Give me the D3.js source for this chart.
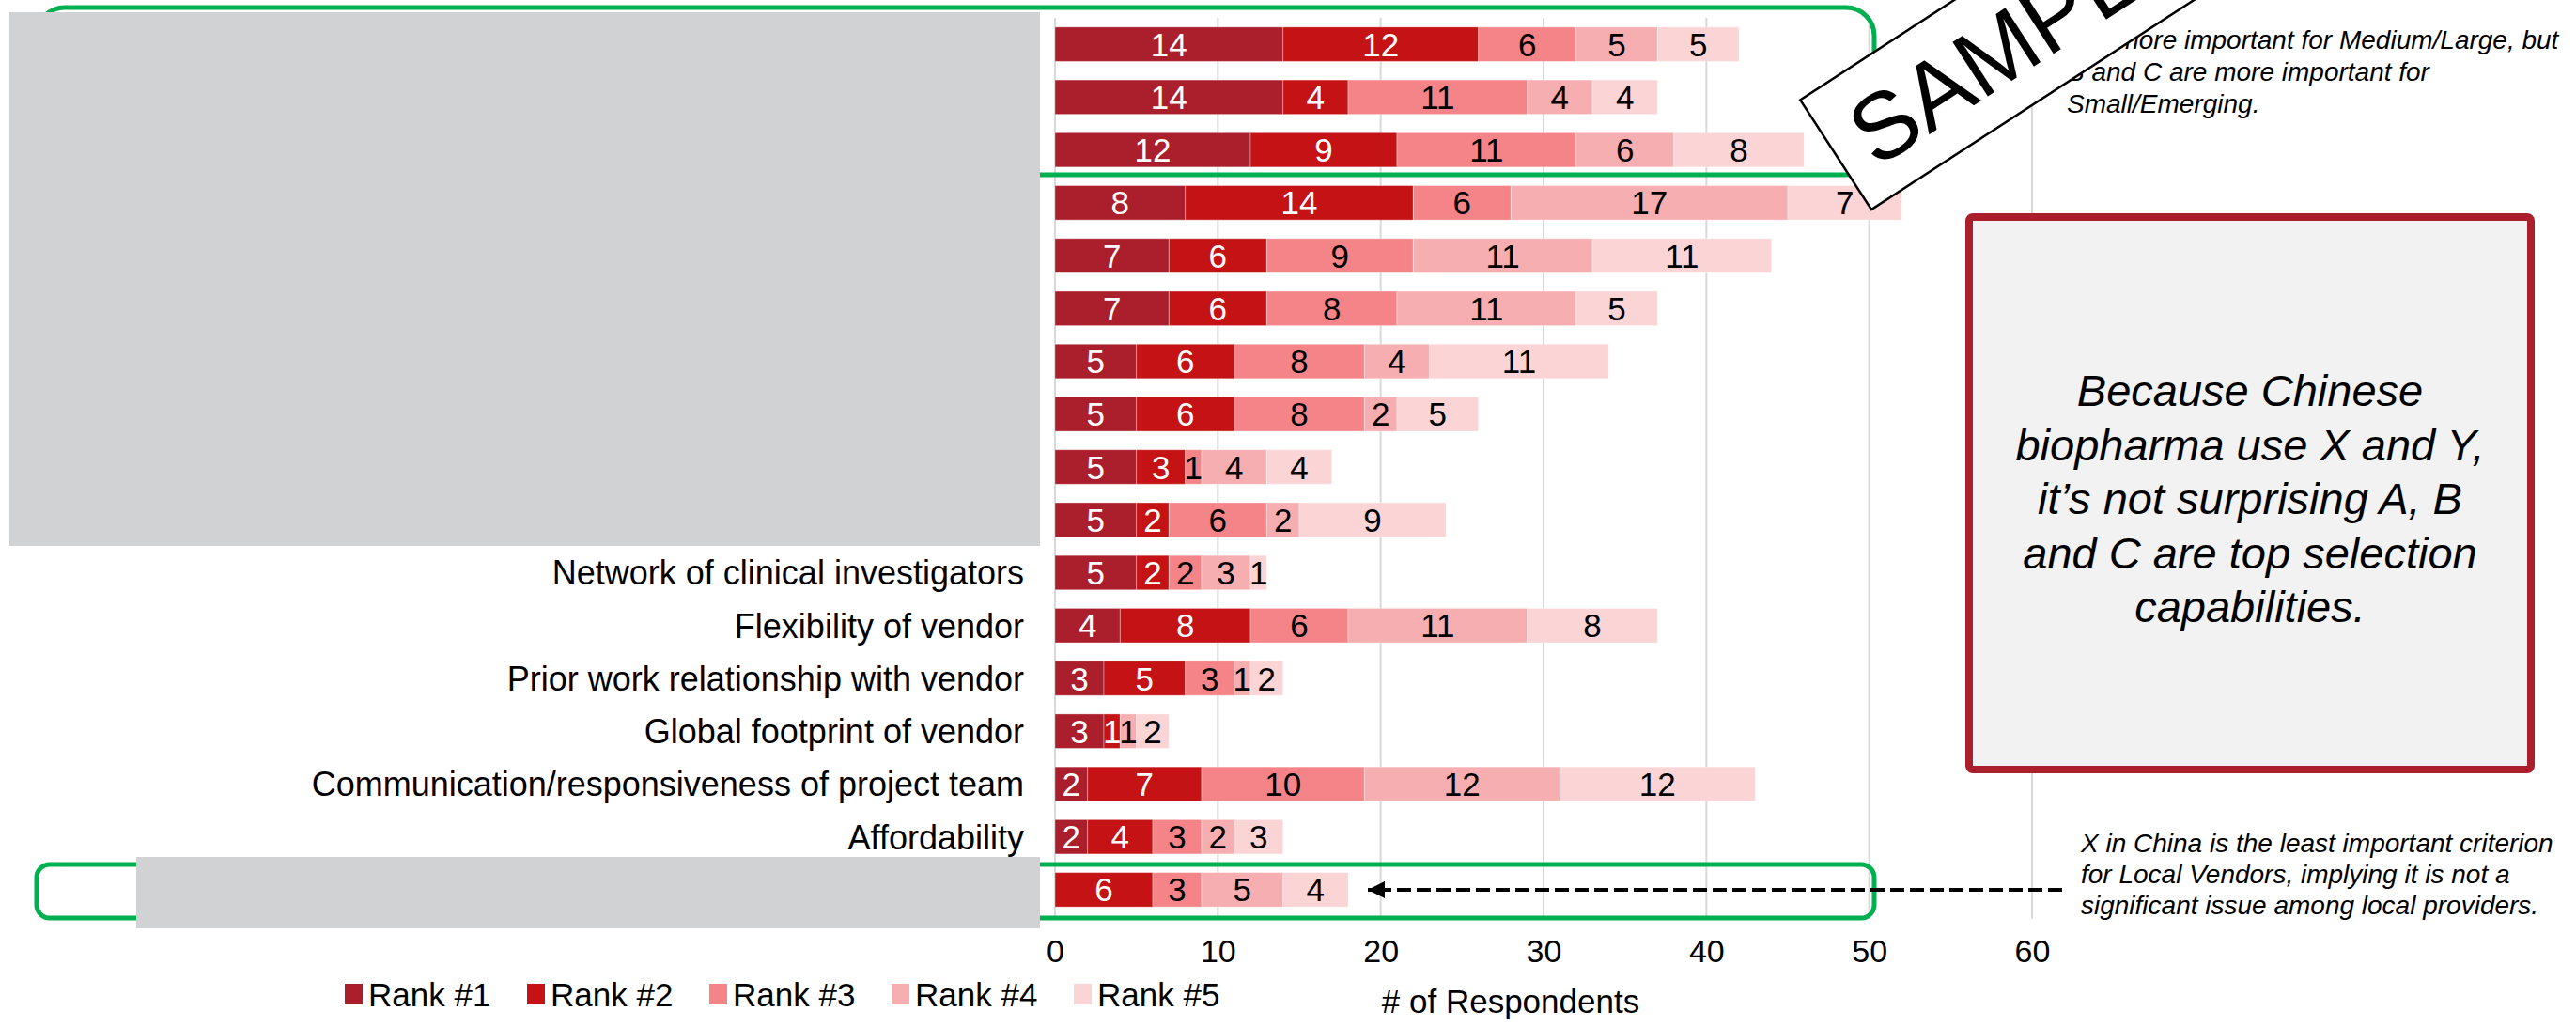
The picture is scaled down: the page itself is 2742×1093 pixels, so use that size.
<!DOCTYPE html>
<html>
<head>
<meta charset="utf-8">
<script src="https://cdn.jsdelivr.net/npm/d3@7"></script>
<style>
  html, body { margin: 0; padding: 0; background: #ffffff; }
  svg { display: block; font-family: "Liberation Sans", Arial, sans-serif; }
</style>
</head>
<body>
<svg id="chart" width="2742" height="1093"></svg>
<script>
// ---------- data ----------
const categories = [
  "Redacted criterion 1", "Redacted criterion 2", "Redacted criterion 3",
  "Redacted criterion 4", "Redacted criterion 5", "Redacted criterion 6",
  "Redacted criterion 7", "Redacted criterion 8", "Redacted criterion 9",
  "Redacted criterion 10",
  "Network of clinical investigators",
  "Flexibility of vendor",
  "Prior work relationship with vendor",
  "Global footprint of vendor",
  "Communication/responsiveness of project team",
  "Affordability",
  "Redacted criterion 11"
];
const redacted = [true, true, true, true, true, true, true, true, true, true,
                  false, false, false, false, false, false, true];
const rank1 = [14, 14, 12, 8, 7, 7, 5, 5, 5, 5, 5, 4, 3, 3, 2, 2, 0];
const rank2 = [12, 4, 9, 14, 6, 6, 6, 6, 3, 2, 2, 8, 5, 1, 7, 4, 6];
const rank3 = [6, 11, 11, 6, 9, 8, 8, 8, 1, 6, 2, 6, 3, 0, 10, 3, 3];
const rank4 = [5, 4, 6, 17, 11, 11, 4, 2, 4, 2, 3, 11, 1, 1, 12, 2, 5];
const rank5 = [5, 4, 8, 7, 11, 5, 11, 5, 4, 9, 1, 8, 2, 2, 12, 3, 4];
const seriesNames = ["Rank #1", "Rank #2", "Rank #3", "Rank #4", "Rank #5"];
const xTicks = [0, 10, 20, 30, 40, 50, 60];
const xTitle = "# of Respondents";
const calloutText = ["Because Chinese", "biopharma use X and Y,", "it\u2019s not surprising A, B", "and C are top selection", "capabilities."];
const topNote = ["A is more important for Medium/Large, but", "B and C are more important for", "Small/Emerging."];
const bottomNote = ["X in China is the least important criterion", "for Local Vendors, implying it is not a", "significant issue among local providers."];

// ---------- styles ----------
const colors = ["#ab1e2c", "#c41215", "#f48487", "#f7aeb0", "#fbd5d6"];
const labelColors = ["#ffffff", "#ffffff", "#000000", "#000000", "#000000"];

const svg = d3.select("#chart");
svg.append("rect").attr("width", 2742).attr("height", 1093).attr("fill", "#ffffff");

const x = d3.scaleLinear().domain([0, 60]).range([1123, 2163]);
const y = d3.scaleBand().domain(categories).range([19, 975]).paddingInner(0.35).paddingOuter(0.175);

// gridlines
svg.append("g").selectAll("line").data(xTicks).join("line")
  .attr("x1", d => x(d)).attr("x2", d => x(d))
  .attr("y1", 19).attr("y2", 978)
  .attr("stroke", "#d9d9d9").attr("stroke-width", 2);

// stacked data
const table = categories.map((c, i) => ({
  cat: c, r1: rank1[i], r2: rank2[i], r3: rank3[i], r4: rank4[i], r5: rank5[i]
}));
const keys = ["r1", "r2", "r3", "r4", "r5"];
const stacked = d3.stack().keys(keys)(table);

const layers = svg.append("g").selectAll("g").data(stacked).join("g")
  .attr("fill", (d, i) => colors[i]);
layers.selectAll("rect").data(d => d.filter(s => s[1] > s[0])).join("rect")
  .attr("x", d => x(d[0]))
  .attr("y", d => y(d.data.cat))
  .attr("width", d => x(d[1]) - x(d[0]))
  .attr("height", y.bandwidth())
  .attr("stroke", "#ffffff").attr("stroke-opacity", 0.35).attr("stroke-width", 1);

const labelLayers = svg.append("g").selectAll("g").data(stacked).join("g")
  .attr("fill", (d, i) => labelColors[i]);
labelLayers.selectAll("text").data(d => d.filter(s => s[1] > s[0])).join("text")
  .attr("x", d => (x(d[0]) + x(d[1])) / 2)
  .attr("y", d => y(d.data.cat) + y.bandwidth() / 2)
  .attr("dy", "0.36em")
  .attr("text-anchor", "middle")
  .attr("font-size", 35)
  .text(d => d[1] - d[0]);

// category axis labels (visible ones)
svg.append("g").selectAll("text").data(categories.filter((c, i) => !redacted[i])).join("text")
  .attr("x", 1090)
  .attr("y", d => y(d) + y.bandwidth() / 2)
  .attr("dy", "0.36em")
  .attr("text-anchor", "end")
  .attr("font-size", 36)
  .attr("fill", "#000")
  .text(d => d);

// x axis (labels only)
const xAxis = d3.axisBottom(x).tickValues(xTicks).tickSize(0).tickPadding(0);
const gx = svg.append("g").attr("transform", "translate(0,1000)").call(xAxis);
gx.select(".domain").remove();
gx.selectAll("text").attr("font-size", 34).attr("fill", "#000")
  .attr("font-family", "'Liberation Sans', Arial, sans-serif").attr("dy", "0.71em");

svg.append("text").attr("x", 1608).attr("y", 1078).attr("text-anchor", "middle")
  .attr("font-size", 35).attr("fill", "#000").text(xTitle);

// legend
const legend = svg.append("g").selectAll("g").data(seriesNames).join("g")
  .attr("transform", (d, i) => `translate(${367 + i * 194},1058)`);
legend.append("rect").attr("x", 0).attr("y", -11).attr("width", 19).attr("height", 22)
  .attr("fill", (d, i) => colors[i]);
legend.append("text").attr("x", 25).attr("y", 0).attr("dy", "0.36em")
  .attr("font-size", 35).attr("fill", "#000").text(d => d);

// green highlight boxes
svg.append("rect").attr("x", 39).attr("y", 8).attr("width", 1956).attr("height", 178)
  .attr("rx", 30).attr("fill", "none").attr("stroke", "#00b050").attr("stroke-width", 5);
svg.append("rect").attr("x", 39).attr("y", 920).attr("width", 1956).attr("height", 57)
  .attr("rx", 14).attr("fill", "none").attr("stroke", "#00b050").attr("stroke-width", 5);

// grey redaction boxes
svg.append("rect").attr("x", 10).attr("y", 13).attr("width", 1097).attr("height", 568).attr("fill", "#d1d2d4");
svg.append("rect").attr("x", 145).attr("y", 912).attr("width", 962).attr("height", 76).attr("fill", "#d1d2d4");

// dashed arrow
const defs = svg.append("defs");
defs.append("marker").attr("id", "arrow").attr("viewBox", "0 0 10 10")
  .attr("refX", 10).attr("refY", 5).attr("markerWidth", 4.5).attr("markerHeight", 4.5)
  .attr("markerUnits", "strokeWidth").attr("orient", "auto")
  .append("path").attr("d", "M0,0 L10,5 L0,10 Z").attr("fill", "#000");
svg.append("line").attr("x1", 2195).attr("x2", 1456)
  .attr("y1", y(categories[16]) + y.bandwidth() / 2).attr("y2", y(categories[16]) + y.bandwidth() / 2)
  .attr("stroke", "#000").attr("stroke-width", 4).attr("stroke-dasharray", "15,6")
  .attr("marker-end", "url(#arrow)");

// notes
const tn = svg.append("text").attr("font-size", 28).attr("font-style", "italic").attr("fill", "#000");
topNote.forEach((t, i) => tn.append("tspan").attr("x", 2200).attr("y", 52 + i * 34).text(t));
const bn = svg.append("text").attr("font-size", 28).attr("font-style", "italic").attr("fill", "#000");
bottomNote.forEach((t, i) => bn.append("tspan").attr("x", 2215).attr("y", 907 + i * 33).text(t));

// callout box
svg.append("rect").attr("x", 2096).attr("y", 231).attr("width", 598).attr("height", 588)
  .attr("rx", 4).attr("fill", "#f2f2f2").attr("stroke", "#ab1e2c").attr("stroke-width", 8);
const ct = svg.append("text").attr("font-size", 47).attr("font-style", "italic")
  .attr("text-anchor", "middle").attr("fill", "#000");
calloutText.forEach((t, i) => ct.append("tspan").attr("x", 2395).attr("y", 432 + i * 57.5).text(t));

// SAMPLE stamp
const stamp = svg.append("g").attr("transform", "translate(1992,223) rotate(-33)");
stamp.append("rect").attr("x", 0).attr("y", -139).attr("width", 720).attr("height", 139)
  .attr("fill", "#ffffff").attr("stroke", "#000").attr("stroke-width", 2.5);
stamp.append("text").attr("x", 28).attr("y", -69.5).attr("dy", "0.36em")
  .attr("font-size", 100).attr("fill", "#000").text("SAMPLE");
</script>
</body>
</html>
